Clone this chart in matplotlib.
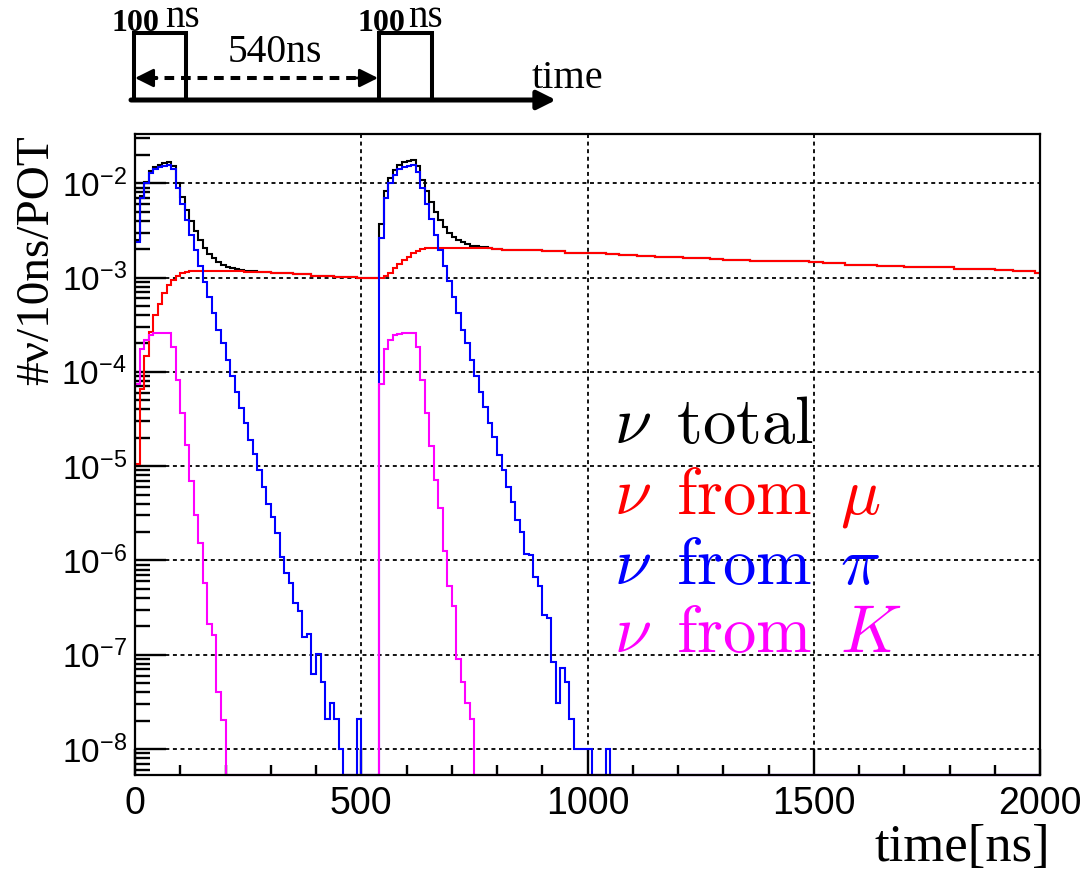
import numpy as np
import matplotlib
matplotlib.use("Agg")
import matplotlib.pyplot as plt
from matplotlib.ticker import FixedLocator, FuncFormatter, MultipleLocator, NullFormatter

plt.rcParams['font.family'] = ['Liberation Sans', 'DejaVu Sans']

### Neutrino time spectrum, 10 ns bins from 0 to 2000 ns (two 100 ns bunches, 540 ns apart)

bin_edges = np.arange(0, 2001, 10)

# nu from mu (red)
nu_mu = np.array([
    1.05e-5, 6.6e-5, 1.49e-4, 2.64e-4, 4.04e-4, 5.3e-4, 6.8e-4, 8.3e-4, 9.5e-4, 1.05e-3,
    1.12e-3, 1.15e-3, 1.16e-3, 1.175e-3, 1.175e-3, 1.175e-3, 1.175e-3, 1.175e-3, 1.175e-3, 1.175e-3,
    1.175e-3, 1.175e-3, 1.175e-3, 1.175e-3, 1.15e-3, 1.15e-3, 1.15e-3, 1.15e-3, 1.15e-3, 1.15e-3,
    1.12e-3, 1.12e-3, 1.12e-3, 1.12e-3, 1.12e-3, 1.08e-3, 1.08e-3, 1.08e-3, 1.08e-3, 1.04e-3,
    1.04e-3, 1.04e-3, 1.04e-3, 1.04e-3, 1.01e-3, 1.01e-3, 1.01e-3, 1.01e-3, 1.01e-3, 0.99e-3,
    0.99e-3, 0.99e-3, 0.99e-3, 0.99e-3, 0.99e-3, 1.04e-3, 1.12e-3, 1.26e-3, 1.38e-3, 1.54e-3,
    1.67e-3, 1.81e-3, 1.92e-3, 2.0e-3, 2.05e-3, 2.08e-3, 2.08e-3, 2.08e-3, 2.08e-3, 2.08e-3,
    2.08e-3, 2.08e-3, 2.08e-3, 2.08e-3, 2.05e-3, 2.05e-3, 2.05e-3, 2.05e-3, 2.05e-3, 2.0e-3,
    2.0e-3, 1.96e-3, 1.96e-3, 1.96e-3, 1.96e-3, 1.96e-3, 1.96e-3, 1.96e-3, 1.96e-3, 1.96e-3,
    1.89e-3, 1.89e-3, 1.89e-3, 1.89e-3, 1.89e-3, 1.84e-3, 1.84e-3, 1.84e-3, 1.84e-3, 1.84e-3,
    1.84e-3, 1.84e-3, 1.84e-3, 1.84e-3, 1.79e-3, 1.79e-3, 1.79e-3, 1.74e-3, 1.74e-3, 1.74e-3,
    1.74e-3, 1.70e-3, 1.70e-3, 1.70e-3, 1.70e-3, 1.67e-3, 1.67e-3, 1.67e-3, 1.67e-3, 1.67e-3,
    1.67e-3, 1.63e-3, 1.63e-3, 1.63e-3, 1.63e-3, 1.63e-3, 1.63e-3, 1.58e-3, 1.58e-3, 1.58e-3,
    1.55e-3, 1.55e-3, 1.55e-3, 1.55e-3, 1.55e-3, 1.55e-3, 1.51e-3, 1.51e-3, 1.51e-3, 1.51e-3,
    1.51e-3, 1.51e-3, 1.51e-3, 1.48e-3, 1.48e-3, 1.48e-3, 1.48e-3, 1.48e-3, 1.50e-3, 1.45e-3,
    1.45e-3, 1.45e-3, 1.41e-3, 1.41e-3, 1.41e-3, 1.41e-3, 1.41e-3, 1.37e-3, 1.37e-3, 1.37e-3,
    1.37e-3, 1.37e-3, 1.37e-3, 1.37e-3, 1.34e-3, 1.34e-3, 1.34e-3, 1.34e-3, 1.34e-3, 1.34e-3,
    1.30e-3, 1.30e-3, 1.30e-3, 1.28e-3, 1.28e-3, 1.28e-3, 1.28e-3, 1.28e-3, 1.28e-3, 1.28e-3,
    1.28e-3, 1.245e-3, 1.245e-3, 1.245e-3, 1.22e-3, 1.22e-3, 1.22e-3, 1.22e-3, 1.22e-3, 1.22e-3,
    1.19e-3, 1.19e-3, 1.19e-3, 1.19e-3, 1.16e-3, 1.16e-3, 1.16e-3, 1.16e-3, 1.16e-3, 1.13e-3,
])

# nu from pi (blue)
nu_pi = np.array([
    2.4e-3, 7.0e-3, 1.0e-2, 1.29e-2, 1.43e-2, 1.49e-2, 1.53e-2, 1.56e-2, 1.41e-2, 8.9e-3,
    6.0e-3, 4.1e-3, 2.8e-3, 1.95e-3, 1.32e-3, 9.0e-4, 6.2e-4, 4.2e-4, 2.8e-4, 2.0e-4,
    1.32e-4, 9.0e-5, 6.1e-5, 4.1e-5, 2.9e-5, 1.9e-5, 1.33e-5, 9.1e-6, 6.0e-6, 4.0e-6,
    2.9e-6, 1.94e-6, 1.1e-6, 7.4e-7, 5.8e-7, 3.5e-7, 2.9e-7, 1.53e-7, 1.66e-7, 6.2e-8,
    1.03e-7, 5.1e-8, 2.06e-8, 3.1e-8, 2.06e-8, 1.0e-8, 0, 0, 0, 2.06e-8,
    0, 0, 0, 0, 2.6e-3, 7.0e-3, 1.0e-2, 1.22e-2, 1.40e-2, 1.49e-2,
    1.53e-2, 1.56e-2, 1.32e-2, 8.8e-3, 6.1e-3, 4.2e-3, 2.85e-3, 1.95e-3, 1.32e-3, 9.1e-4,
    6.2e-4, 4.2e-4, 2.8e-4, 2.0e-4, 1.35e-4, 9.1e-5, 6.1e-5, 4.2e-5, 2.9e-5, 2.06e-5,
    1.3e-5, 9.2e-6, 6.0e-6, 4.2e-6, 2.7e-6, 2.0e-6, 1.17e-6, 1.15e-6, 6.6e-7, 5.3e-7,
    2.66e-7, 2.45e-7, 8.3e-8, 3.1e-8, 7.2e-8, 5.1e-8, 2.06e-8, 1.0e-8, 1.0e-8, 1.0e-8,
    1.0e-8, 0, 0, 0, 1.0e-8, 0, 0, 0, 0, 0,
] + [0.0] * 90)

# nu from K (magenta)
nu_K = np.array([
    7.4e-5, 1.76e-4, 2.19e-4, 2.43e-4, 2.6e-4, 2.6e-4, 2.6e-4, 2.6e-4, 1.85e-4, 8.1e-5,
    3.7e-5, 1.66e-5, 7.0e-6, 3.06e-6, 1.53e-6, 5.8e-7, 2.1e-7, 1.63e-7, 4.0e-8, 2.04e-8,
] + [0.0] * 34 + [
    7.4e-5, 1.76e-4, 2.2e-4, 2.43e-4, 2.52e-4, 2.6e-4,
    2.6e-4, 2.6e-4, 1.85e-4, 8.1e-5, 3.7e-5, 1.63e-5, 7.1e-6, 3.6e-6, 1.25e-6, 5.4e-7,
    3.3e-7, 9.1e-8, 5.1e-8, 3.1e-8, 2.06e-8,
] + [0.0] * 125)

# total is the sum of the three parents
nu_total = nu_mu + nu_pi + nu_K

y_lo, y_hi = 5.3e-9, 3.33e-2

fig = plt.figure(figsize=(10.91, 8.83), dpi=100)
ax = fig.add_axes([135/1091, 1 - 775/883, 905/1091, 641/883])

# empty bins sit on the bottom of the frame, as ROOT draws them
def on_frame(v):
    return np.where(v > 0, v, y_lo)

for vals, col in [(nu_total, 'black'), (nu_mu, 'red'), (nu_pi, 'blue'), (nu_K, 'magenta')]:
    ax.stairs(on_frame(vals), bin_edges, baseline=None, color=col, lw=1.5, clip_on=False, zorder=3)

ax.set_yscale('log')
ax.set_xlim(0, 2000)
ax.set_ylim(y_lo, y_hi)
ax.xaxis.set_major_locator(MultipleLocator(500))
ax.xaxis.set_minor_locator(MultipleLocator(100))
ax.yaxis.set_major_locator(FixedLocator([10.0 ** e for e in range(-8, -1)]))
ax.yaxis.set_minor_locator(FixedLocator([k * 10.0 ** e for e in range(-9, -1) for k in range(2, 10)]))
ax.yaxis.set_major_formatter(FuncFormatter(lambda v, p: r'$\mathregular{10^{%d}}$' % round(np.log10(v))))
ax.yaxis.set_minor_formatter(NullFormatter())
ax.tick_params(which='both', direction='in', top=False, right=False, left=True, bottom=True,
               width=1.7, color='black')
ax.tick_params(axis='x', which='major', length=19, labelsize=27, pad=8)
ax.tick_params(axis='x', which='minor', length=7)
ax.tick_params(axis='y', which='major', length=22, labelsize=24, pad=6)
ax.tick_params(axis='y', which='minor', length=10.5)
for s in ax.spines.values():
    s.set_linewidth(1.6)
    s.set_zorder(4)
ax.grid(True, which='major', color='black', linestyle=(0, (2.2, 2.0)), linewidth=1.3)

# overlay in pixel units for labels, legend and the bunch sketch
ov = fig.add_axes([0, 0, 1, 1])
ov.set_xlim(0, 1091)
ov.set_ylim(883, 0)
ov.axis('off')

serif = 'Liberation Serif'
ov.text(37, 135, '#ν/10ns/POT', rotation=90, ha='center', va='top', family=serif, size=34)
ov.text(1050, 861, 'time[ns]', ha='right', va='baseline', family=serif, size=38)

legend_rows = [
    (r'$\nu\ \,\mathrm{total}$', 'black', 443),
    (r'$\nu\ \,\mathrm{from}\ \,\mu$', 'red', 513),
    (r'$\nu\ \,\mathrm{from}\ \,\pi$', 'blue', 584),
    (r'$\nu\ \,\mathrm{from}\ \,K$', 'magenta', 652),
]
for txt, col, yb in legend_rows:
    ov.text(614, yb, txt, color=col, size=48, ha='left', va='baseline', math_fontfamily='cm')

# bunch structure sketch
ov.annotate('', xy=(556, 100), xytext=(131, 100),
            arrowprops=dict(arrowstyle='-|>', lw=3.6, color='black', mutation_scale=28, shrinkA=0, shrinkB=0))
for x0, x1 in [(134, 186), (379, 432)]:
    ov.plot([x0, x0, x1, x1], [100, 33, 33, 100], color='black', lw=2.9, solid_joinstyle='miter')
ov.plot([148, 365], [78, 78], color='black', lw=2.9, linestyle=(0, (2.4, 1.7)))
ov.annotate('', xy=(135, 78), xytext=(157, 78),
            arrowprops=dict(arrowstyle='-|>', lw=2.0, color='black', mutation_scale=28, shrinkA=0, shrinkB=0))
ov.annotate('', xy=(378, 78), xytext=(356, 78),
            arrowprops=dict(arrowstyle='-|>', lw=2.0, color='black', mutation_scale=28, shrinkA=0, shrinkB=0))
ov.text(275, 62, '540ns', ha='center', va='baseline', family=serif, size=28.5)
for xa, xb in [(112, 165), (357, 408)]:
    ov.text(xa, 31, '100', ha='left', va='baseline', family=serif, weight='bold', size=23)
    ov.text(xb, 27, 'ns', ha='left', va='baseline', family=serif, size=28)
ov.text(532, 88, 'time', ha='left', va='baseline', family=serif, size=29)

fig.savefig('out.png', dpi=100)
